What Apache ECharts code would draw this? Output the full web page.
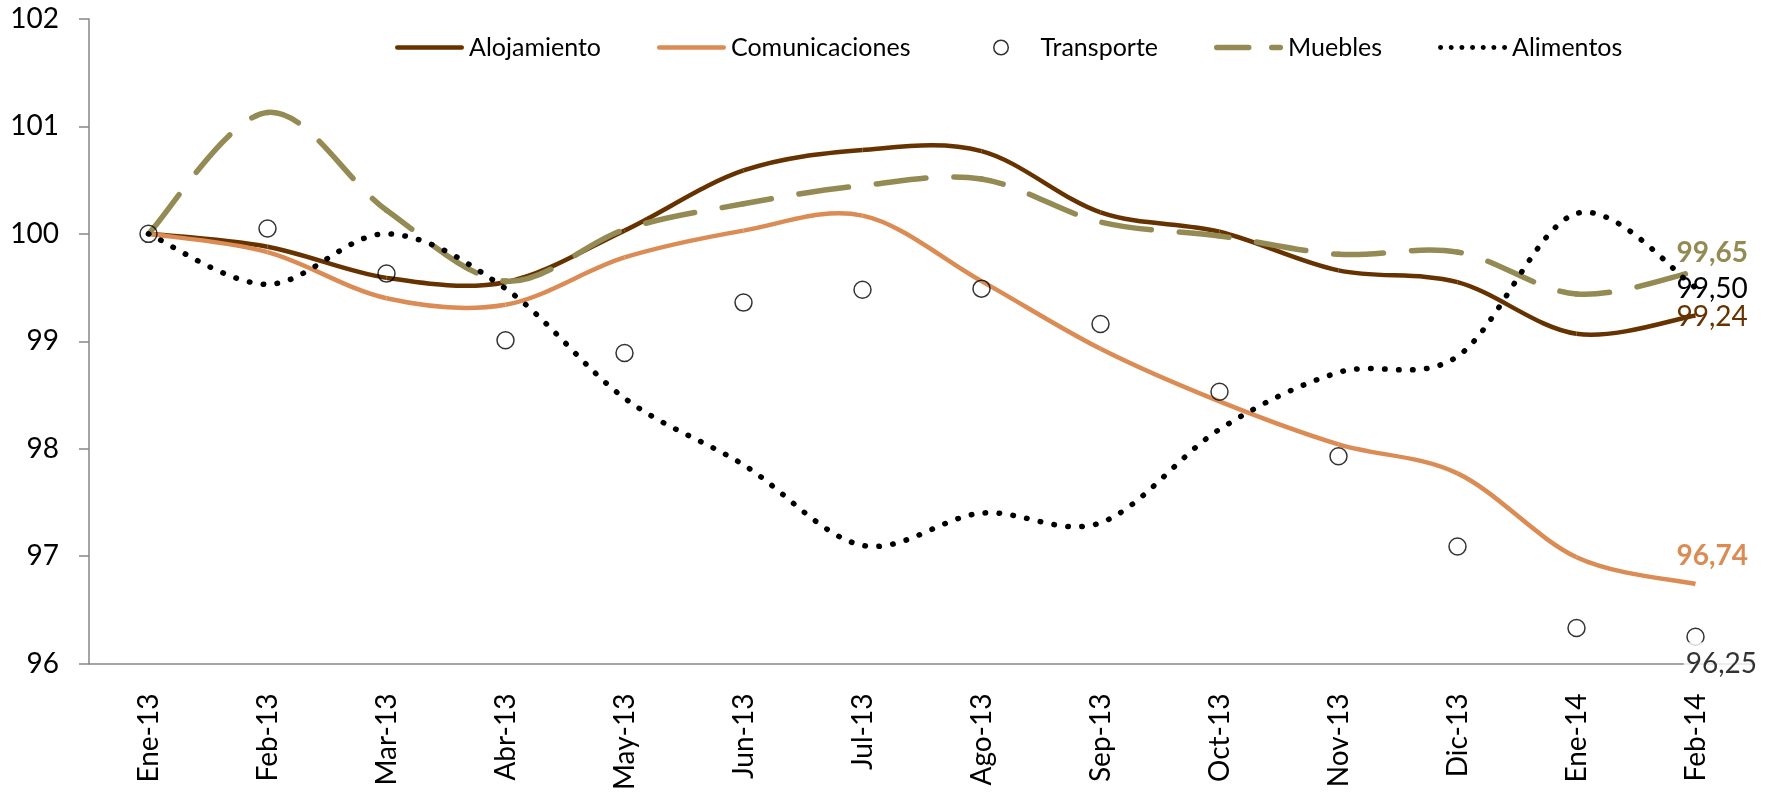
<!DOCTYPE html>
<html>
<head>
<meta charset="utf-8">
<title>Índices de precios</title>
<script src="https://cdn.jsdelivr.net/npm/echarts@6/dist/echarts.min.js"></script>
<style>
  html, body { margin: 0; padding: 0; background: #fff; }
  #chart { width: 1765px; height: 793px; }
</style>
</head>
<body>
<div id="chart"></div>
<script>
// categorías (meses)
const meses = ['Ene-13', 'Feb-13', 'Mar-13', 'Abr-13', 'May-13', 'Jun-13', 'Jul-13',
  'Ago-13', 'Sep-13', 'Oct-13', 'Nov-13', 'Dic-13', 'Ene-14', 'Feb-14'];

// series
const alojamiento = [100, 99.88, 99.59, 99.55, 100.03, 100.59, 100.78, 100.77, 100.20, 100.02, 99.66, 99.55, 99.07, 99.24];
const comunicaciones = [100, 99.83, 99.40, 99.34, 99.78, 100.03, 100.17, 99.56, 98.93, 98.44, 98.04, 97.77, 96.99, 96.74];
const transporte = [100, 100.05, 99.63, 99.01, 98.89, 99.36, 99.48, 99.49, 99.16, 98.53, 97.93, 97.09, 96.33, 96.25];
const muebles = [100, 101.13, 100.22, 99.56, 100.04, 100.28, 100.45, 100.51, 100.11, 99.98, 99.81, 99.83, 99.44, 99.65];
const alimentos = [100, 99.53, 100.0, 99.49, 98.47, 97.85, 97.10, 97.40, 97.31, 98.18, 98.71, 98.86, 100.19, 99.50];

const yTicks = [96, 97, 98, 99, 100, 101, 102];

const font = 'Lato';
const cBrown = '#663300';
const cOrange = '#DA8C54';
const cOlive = '#948A54';

const fmt = v => v.toFixed(2).replace('.', ',');

// iconos de la leyenda (69 x 16)
const box = 'M0,0h0.01v0.01h-0.01z M68.99,15.99h0.01v0.01h-0.01z ';
const iconSolid = 'path://' + box + 'M2.25,5.75h64.5a2.25,2.25 0 0 1 0,4.5h-64.5a2.25,2.25 0 0 1 0,-4.5z';
const iconDash = 'path://' + box +
  'M2.75,5.25h32a2.75,2.75 0 0 1 0,5.5h-32a2.75,2.75 0 0 1 0,-5.5z ' +
  'M57.75,5.25h8.5a2.75,2.75 0 0 1 0,5.5h-8.5a2.75,2.75 0 0 1 0,-5.5z';
const iconRing = 'path://' + box +
  'M26.5,8a8,8 0 1 1 16,0a8,8 0 1 1 -16,0z M28,8a6.5,6.5 0 1 0 13,0a6.5,6.5 0 1 0 -13,0z';
let dots = '';
for (let k = 0; k < 7; k++) {
  const cx = 2.5 + k * 10.67;
  dots += 'M' + (cx - 2.5) + ',8a2.5,2.5 0 1 0 5,0a2.5,2.5 0 1 0 -5,0z ';
}
const iconDots = 'path://' + box + dots;

// longitud aproximada de una curva de Bézier
function bezierLen(p1, c1, c2, p2) {
  let len = 0, prev = p1;
  for (let s = 1; s <= 24; s++) {
    const t = s / 24, u = 1 - t;
    const x = u * u * u * p1[0] + 3 * u * u * t * c1[0] + 3 * u * t * t * c2[0] + t * t * t * p2[0];
    const y = u * u * u * p1[1] + 3 * u * u * t * c1[1] + 3 * u * t * t * c2[1] + t * t * t * p2[1];
    len += Math.hypot(x - prev[0], y - prev[1]);
    prev = [x, y];
  }
  return len;
}

// línea suavizada (estilo Excel) dibujada tramo a tramo
function smoothSeries(name, values, style, label) {
  const n = values.length;
  return {
    name: name,
    type: 'custom',
    itemStyle: { color: style.color },
    encode: { x: 0, y: 1 },
    data: values.map((v, i) => [i, v]),
    renderItem: (params, api) => {
      const i = params.dataIndex;
      const pt = k => {
        const j = Math.max(0, Math.min(n - 1, k));
        return api.coord([j, values[j]]);
      };
      const seg = k => {
        const p0 = pt(k - 1), p1 = pt(k), p2 = pt(k + 1), p3 = pt(k + 2);
        const c1 = [p1[0] + (p2[0] - p0[0]) / 6, p1[1] + (p2[1] - p0[1]) / 6];
        const c2 = [p2[0] - (p3[0] - p1[0]) / 6, p2[1] - (p3[1] - p1[1]) / 6];
        return [p1, c1, c2, p2];
      };
      const children = [];
      if (i < n - 1) {
        let offset = 0;
        for (let k = 0; k < i; k++) offset += bezierLen.apply(null, seg(k));
        const s = seg(i);
        children.push({
          type: 'bezierCurve',
          shape: {
            x1: s[0][0], y1: s[0][1], cpx1: s[1][0], cpy1: s[1][1],
            cpx2: s[2][0], cpy2: s[2][1], x2: s[3][0], y2: s[3][1]
          },
          style: {
            fill: null,
            stroke: style.color,
            lineWidth: style.width,
            lineDash: style.dash || null,
            lineDashOffset: offset,
            lineCap: style.cap || 'butt'
          }
        });
      } else if (label) {
        const p = pt(i);
        children.push({
          type: 'text',
          z2: 100,
          x: p[0] - 19,
          y: p[1] + label.dy,
          style: {
            text: fmt(values[i]),
            fill: label.color,
            fontFamily: font,
            fontSize: 28,
            fontWeight: label.bold ? 'bold' : 'normal',
            align: 'left',
            verticalAlign: 'middle'
          }
        });
      }
      return { type: 'group', children: children };
    }
  };
}

const chart = echarts.init(document.getElementById('chart'));

const option = {
  animation: false,
  backgroundColor: '#fff',
  grid: { left: 89, right: 10, top: 19, bottom: 126 },
  legend: {
    left: 390,
    top: 30,
    itemWidth: 69,
    itemHeight: 16,
    itemGap: 56,
    textStyle: { fontFamily: font, fontSize: 25, color: '#000', lineHeight: 24 },
    data: [
      { name: 'Alojamiento', icon: iconSolid },
      { name: 'Comunicaciones', icon: iconSolid },
      { name: 'Transporte', icon: iconRing, itemStyle: { color: '#000', borderWidth: 0 } },
      { name: 'Muebles', icon: iconDash },
      { name: 'Alimentos', icon: iconDots }
    ]
  },
  xAxis: {
    type: 'category',
    data: meses,
    boundaryGap: true,
    axisLine: { lineStyle: { color: '#868686', width: 1.5 } },
    axisTick: { length: 10, lineStyle: { color: '#868686', width: 1.5 } },
    axisLabel: { rotate: 90, margin: 30, fontFamily: font, fontSize: 28, color: '#000' }
  },
  yAxis: {
    type: 'value',
    min: yTicks[0],
    max: yTicks[yTicks.length - 1],
    interval: 1,
    splitLine: { show: false },
    axisLine: { show: true, lineStyle: { color: '#868686', width: 1.5 } },
    axisTick: { show: true, length: 10, lineStyle: { color: '#868686', width: 1.5 } },
    axisLabel: { margin: 30, fontFamily: font, fontSize: 28, color: '#000' }
  },
  series: [
    smoothSeries('Alojamiento', alojamiento, { color: cBrown, width: 4.5 }, { color: cBrown, dy: 1 }),
    smoothSeries('Comunicaciones', comunicaciones, { color: cOrange, width: 4.5 }, { color: cOrange, bold: true, dy: -28 }),
    {
      name: 'Transporte',
      type: 'scatter',
      symbol: 'circle',
      symbolSize: 17,
      z: 3,
      itemStyle: { color: 'rgba(255,255,255,0)', borderColor: '#000', borderWidth: 1.5 },
      data: transporte.map((v, i) => i < transporte.length - 1 ? v : {
        value: v,
        label: {
          show: true,
          position: 'right',
          distance: 0,
          offset: [-21, 27],
          fontFamily: font,
          fontSize: 28,
          color: '#000',
          lineHeight: 28,
          backgroundColor: '#fff',
          padding: [13, 2, 2, 2],
          formatter: p => fmt(p.value)
        }
      })
    },
    smoothSeries('Muebles', muebles, { color: cOlive, width: 5.5, dash: [50, 28], cap: 'round' }, { color: cOlive, bold: true, dy: -18 }),
    smoothSeries('Alimentos', alimentos, { color: '#000', width: 5.5, dash: [0.5, 13.5], cap: 'round' }, { color: '#000', dy: 1 })
  ]
};

chart.setOption(option);
</script>
</body>
</html>
